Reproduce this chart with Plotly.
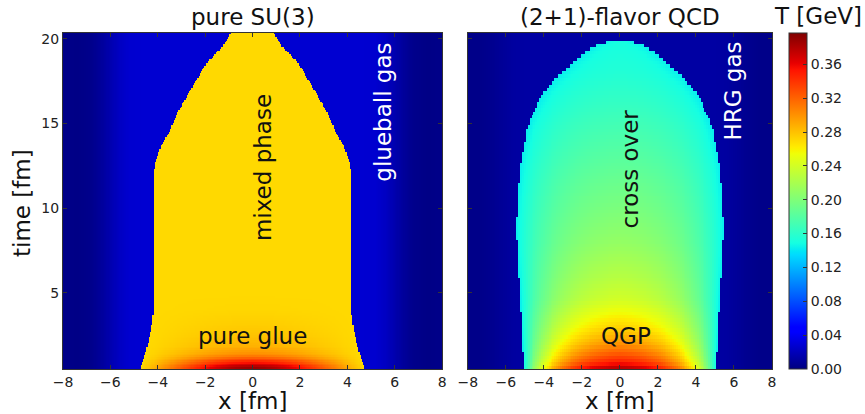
import numpy as np
import plotly.graph_objects as go

# ---------------- data ----------------
T_MAX = 0.397          # top of colour scale [GeV]
CB_TICKS = [0.00, 0.04, 0.08, 0.12, 0.16, 0.20, 0.24, 0.28, 0.32, 0.36]
X_TICKS = [-8, -6, -4, -2, 0, 2, 4, 6, 8]
Y_TICKS = [5, 10, 15, 20]

# pure SU(3): half-width of the mixed-phase region vs time
su3_w_t = [0.4, 1.0, 1.5, 2.0, 3.0, 4.0, 6.0, 8.0, 10.0, 12.0, 12.6, 13.6, 14.6, 15.6, 16.6, 17.6, 18.6, 19.5, 20.0, 20.4]
su3_w   = [4.78, 4.62, 4.5, 4.4, 4.26, 4.18, 4.15, 4.18, 4.2, 4.18, 4.12, 3.87, 3.48, 3.17, 2.78, 2.35, 1.93, 1.27, 1.05, 0.9]
# pure SU(3): temperature on the axis x=0 vs time
su3_tc_t = [0.4, 0.6, 0.9, 1.3, 1.8, 2.5, 3.1, 4.0, 5.0, 20.4]
su3_tc   = [0.397, 0.385, 0.35, 0.305, 0.287, 0.279, 0.275, 0.271, 0.27, 0.27]
su3_tedge = 0.27
# pure SU(3): glueball-gas temperature vs |x|
su3_out_x = [0.0, 4.5, 5.2, 5.6, 6.0, 6.4, 6.8, 7.4, 8.0]
su3_out_T = [0.028, 0.028, 0.027, 0.023, 0.016, 0.009, 0.004, 0.002, 0.003]
# pure SU(3): transverse shape of the hot core (r = |x| / half-width)
su3_prof_r = [0.0, 0.1, 0.2, 0.3, 0.4, 0.5, 0.6, 0.7, 0.8, 0.9, 1.0]
su3_prof   = [1.0, 0.98, 0.93, 0.85, 0.75, 0.63, 0.5, 0.37, 0.24, 0.11, 0.0]

# (2+1)-flavor QCD: half-width of the cross-over region vs time
qcd_w_t = [0.4, 1.0, 2.0, 3.0, 4.6, 6.0, 7.5, 8.5, 9.5, 10.6, 12.6, 14.6, 15.5, 16.6, 17.5, 18.5, 19.2, 19.6, 19.85, 19.95, 20.4]
qcd_w   = [5.07, 5.08, 5.12, 5.17, 5.22, 5.3, 5.38, 5.41, 5.4, 5.36, 5.22, 4.9, 4.6, 4.15, 3.5, 2.55, 1.8, 1.25, 0.68, 0.0, 0.0]
# (2+1)-flavor QCD: temperature on the axis vs time
qcd_tc_t = [0.4, 0.7, 1.0, 1.5, 2.0, 2.5, 3.0, 3.5, 4.6, 6.0, 8.0, 10.0, 12.0, 14.0, 16.0, 18.0, 20.4]
qcd_tc   = [0.397, 0.365, 0.345, 0.32, 0.30, 0.285, 0.272, 0.262, 0.24, 0.226, 0.21, 0.198, 0.187, 0.176, 0.165, 0.155, 0.148]
qcd_tedge = 0.143
qcd_out_x = [0.0, 5.0, 5.6, 6.2, 6.8, 7.4, 8.0]
qcd_out_T = [0.012, 0.012, 0.011, 0.008, 0.005, 0.003, 0.003]
qcd_prof_r = [0.0, 0.1, 0.2, 0.3, 0.4, 0.5, 0.6, 0.7, 0.8, 0.9, 1.0]
qcd_prof   = [1.0, 0.99, 0.965, 0.93, 0.88, 0.81, 0.72, 0.6, 0.45, 0.26, 0.0]


# ---------------- build the temperature tables ----------------
def field(x, t, w_t, w, tc_t, tc, tedge, out_x, out_T, pr_r, pr):
    X, Tt = np.meshgrid(x, t)
    W = np.interp(Tt, w_t, w)
    Tc = np.interp(Tt, tc_t, tc)
    ax = np.abs(X)
    r = np.where(W > 0, ax / np.maximum(W, 1e-9), 2.0)
    inside = (ax <= W) & (W > 0)
    T_in = tedge + (Tc - tedge) * np.interp(np.clip(r, 0, 1), pr_r, pr)
    T_out = np.interp(ax, out_x, out_T)
    return np.where(inside, T_in, T_out)


x_su3 = np.round(np.arange(-8.0, 8.001, 0.05), 3)
t_su3 = np.round(np.arange(0.45, 20.451, 0.1), 3)
z_su3 = field(x_su3, t_su3, su3_w_t, su3_w, su3_tc_t, su3_tc, su3_tedge,
              su3_out_x, su3_out_T, su3_prof_r, su3_prof)

x_qcd = np.round(np.arange(-8.0, 8.001, 0.1), 3)
t_qcd = np.round(np.arange(0.4, 20.41, 0.2), 3)
z_qcd = field(x_qcd, t_qcd, qcd_w_t, qcd_w, qcd_tc_t, qcd_tc, qcd_tedge,
              qcd_out_x, qcd_out_T, qcd_prof_r, qcd_prof)

# ---------------- matplotlib "jet" colour scale ----------------
bp = [0, 0.11, 0.125, 0.34, 0.35, 0.375, 0.64, 0.65, 0.66, 0.89, 0.91, 1.0]
def jet(p):
    r = np.interp(p, [0, 0.35, 0.66, 0.89, 1], [0, 0, 1, 1, 0.5])
    g = np.interp(p, [0, 0.125, 0.375, 0.64, 0.91, 1], [0, 0, 1, 1, 0, 0])
    b = np.interp(p, [0, 0.11, 0.34, 0.65, 1], [0.5, 1, 1, 0, 0])
    return "rgb(%d,%d,%d)" % (round(r * 255), round(g * 255), round(b * 255))
jet_scale = [[p, jet(p)] for p in bp]

# ---------------- figure ----------------
W_PX, H_PX = 865, 414
FONT = "DejaVu Sans"
L, R, TOP, BOT = 63.0, 771.7, 33.3, 368.7       # plot-area edges in pixels
PW, PH = R - L, BOT - TOP
def fx(px): return (px - L) / PW
def fy(py): return (BOT - py) / PH

fig = go.Figure()
fig.add_trace(go.Heatmap(x=x_su3, y=t_su3, z=z_su3, coloraxis="coloraxis",
                         xaxis="x", yaxis="y", hoverinfo="skip"))
fig.add_trace(go.Heatmap(x=x_qcd, y=t_qcd, z=z_qcd, coloraxis="coloraxis",
                         xaxis="x2", yaxis="y2", hoverinfo="skip"))

axis_common = dict(showline=True, linecolor="#333", linewidth=1, mirror="ticks",
                   ticks="inside", ticklen=4, tickcolor="#333", showgrid=False,
                   zeroline=False, automargin=False,
                   tickfont=dict(family=FONT, size=14, color="#222"))
fig.update_layout(
    width=W_PX, height=H_PX,
    margin=dict(l=L, r=W_PX - R, t=TOP, b=H_PX - BOT, pad=0, autoexpand=False),
    paper_bgcolor="white", plot_bgcolor="white",
    font=dict(family=FONT, color="#111"),
    xaxis=dict(domain=[0, fx(442)], range=[-8, 8], tickvals=X_TICKS,
               anchor="y", **axis_common),
    yaxis=dict(domain=[0, 1], range=[0.5, 20.35], tickvals=Y_TICKS,
               anchor="x", **axis_common),
    xaxis2=dict(domain=[fx(467.7), 1], range=[-8, 8], tickvals=X_TICKS,
                anchor="y2", **axis_common),
    yaxis2=dict(domain=[0, 1], range=[0.5, 20.35], tickvals=Y_TICKS,
                anchor="x2", showticklabels=False, **axis_common),
    coloraxis=dict(
        cmin=0, cmax=T_MAX, colorscale=jet_scale,
        colorbar=dict(x=fx(789), xanchor="left", xpad=0, ypad=0,
                      y=0, yanchor="bottom", len=1, lenmode="fraction",
                      thickness=17.5, thicknessmode="pixels",
                      outlinecolor="#333", outlinewidth=1,
                      tickvals=CB_TICKS, ticktext=["%.2f" % v for v in CB_TICKS],
                      ticks="inside", ticklen=4, tickcolor="#333",
                      tickfont=dict(family=FONT, size=14, color="#222")),
    ),
)

big = dict(family=FONT, size=23, color="#111")
ann = [
    dict(text="pure SU(3)", x=fx(252.5), y=fy(17)),
    dict(text="(2+1)-flavor QCD", x=fx(619.7), y=fy(17)),
    dict(text="T [GeV]", x=fx(818), y=fy(16)),
    dict(text="x [fm]", x=fx(252.5), y=fy(401)),
    dict(text="x [fm]", x=fx(619.7), y=fy(401)),
    dict(text="time [fm]", x=fx(22), y=fy(203), textangle=-90),
]
for a in ann:
    fig.add_annotation(showarrow=False, font=big, xanchor="center", yanchor="middle",
                       xref="paper", yref="paper", **a)

inner = [
    dict(text="mixed phase", x=0.42, y=12.4, xref="x", yref="y", textangle=-90, color="#111"),
    dict(text="glueball gas", x=5.5, y=15.7, xref="x", yref="y", textangle=-90, color="white"),
    dict(text="pure glue", x=0.0, y=2.45, xref="x", yref="y", textangle=0, color="#111"),
    dict(text="cross over", x=0.54, y=12.3, xref="x2", yref="y2", textangle=-90, color="#111"),
    dict(text="HRG gas", x=5.96, y=16.9, xref="x2", yref="y2", textangle=-90, color="white"),
    dict(text="QGP", x=0.33, y=2.45, xref="x2", yref="y2", textangle=0, color="#111"),
]
for a in inner:
    col = a.pop("color")
    fig.add_annotation(showarrow=False, font=dict(family=FONT, size=23, color=col),
                       xanchor="center", yanchor="middle", **a)

fig.write_html("out.html", config={"displayModeBar": False},
               post_script="document.body.style.margin='0px';document.body.style.padding='0px';")
